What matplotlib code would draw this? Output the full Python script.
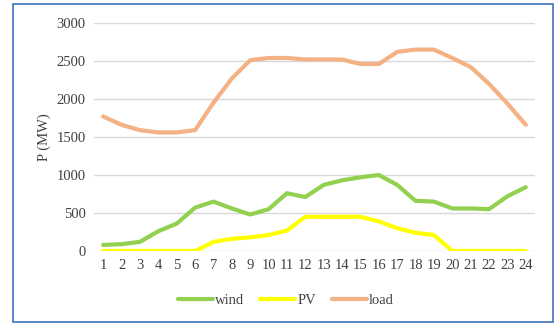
import matplotlib
matplotlib.use("Agg")
import matplotlib.pyplot as plt
from matplotlib.patches import Rectangle

hours = list(range(1, 25))
wind = [80, 90, 120, 260, 360, 570, 650, 560, 480, 550, 760, 710,
        870, 930, 970, 1000, 870, 660, 650, 560, 560, 550, 720, 840]
pv = [0, 0, 0, 0, 0, 0, 120, 160, 180, 210, 270, 450,
      450, 450, 450, 390, 300, 240, 210, 0, 0, 0, 0, 0]
load = [1770, 1660, 1590, 1560, 1560, 1590, 1950, 2270, 2510, 2540, 2540, 2520,
        2520, 2520, 2460, 2460, 2620, 2650, 2650, 2540, 2420, 2200, 1940, 1660]

plt.rcParams['font.family'] = ['Liberation Serif', 'DejaVu Serif']

fig = plt.figure(figsize=(5.59, 3.23), dpi=100)
ax = fig.add_axes([94 / 559, 1 - 251 / 323, (535 - 94) / 559, (251 - 23) / 323])

ax.plot(hours, wind, color='#92D050', lw=3, label='wind', solid_capstyle='round')
ax.plot(hours, pv, color='#FFFF00', lw=3, label='PV', solid_capstyle='round')
ax.plot(hours, load, color='#F4B183', lw=3, label='load', solid_capstyle='round')

ax.set_ylim(0, 3000)
ax.set_xlim(0.5, 24.5)
ax.set_yticks(range(0, 3001, 500))
ax.set_xticks(hours)
ax.yaxis.grid(True, color='#D9D9D9', lw=1)
ax.set_axisbelow(True)
for s in ax.spines.values():
    s.set_visible(False)
ax.tick_params(length=0, labelsize=10.5, colors='#404040', pad=6)
ax.set_ylabel('P (MW)', fontsize=10.5, color='#404040')

# legend sits centred on the whole chart box, not the plot area
ax.legend(loc='upper center', bbox_to_anchor=(0.435, -0.13), ncol=3, frameon=False,
          fontsize=10.5, handlelength=2.4, columnspacing=1.1, handletextpad=0.15,
          labelcolor='#404040')

fig.patches.append(Rectangle((13 / 559, 1 / 323), 540 / 559, 318 / 323,
                             transform=fig.transFigure, fill=False,
                             edgecolor='#4472C4', lw=1.2))

fig.savefig('out.png', dpi=100)
